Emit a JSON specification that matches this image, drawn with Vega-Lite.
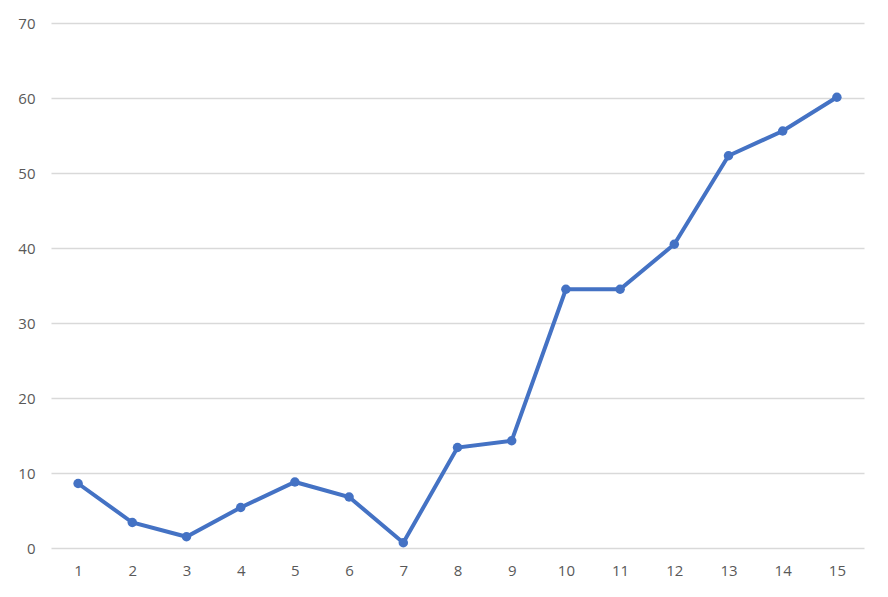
{
  "$schema": "https://vega.github.io/schema/vega-lite/v6.json",
  "width": 813,
  "height": 525,
  "autosize": "none",
  "padding": {"left": 51, "top": 23, "right": 24, "bottom": 49},
  "background": "#ffffff",
  "data": {
    "values": [
      {"x": 1, "y": 8.6},
      {"x": 2, "y": 3.4},
      {"x": 3, "y": 1.5},
      {"x": 4, "y": 5.4},
      {"x": 5, "y": 8.8},
      {"x": 6, "y": 6.8},
      {"x": 7, "y": 0.7},
      {"x": 8, "y": 13.4},
      {"x": 9, "y": 14.3},
      {"x": 10, "y": 34.5},
      {"x": 11, "y": 34.5},
      {"x": 12, "y": 40.5},
      {"x": 13, "y": 52.3},
      {"x": 14, "y": 55.6},
      {"x": 15, "y": 60.1}
    ]
  },
  "mark": {
    "type": "line",
    "color": "#4472C4",
    "strokeWidth": 4,
    "point": {"filled": true, "size": 90, "color": "#4472C4", "opacity": 1}
  },
  "encoding": {
    "x": {
      "field": "x",
      "type": "ordinal",
      "title": null,
      "scale": {"paddingInner": 0, "paddingOuter": 0},
      "axis": {
        "labelAngle": 0,
        "ticks": false,
        "domain": false,
        "grid": false,
        "labelPadding": 15,
        "labelColor": "#595959",
        "labelFont": "Open Sans",
        "labelFontSize": 15
      }
    },
    "y": {
      "field": "y",
      "type": "quantitative",
      "title": null,
      "scale": {"domain": [0, 70], "nice": false},
      "axis": {
        "values": [0, 10, 20, 30, 40, 50, 60, 70],
        "ticks": false,
        "domain": false,
        "gridColor": "#d9d9d9",
        "gridWidth": 1.3,
        "labelPadding": 16,
        "labelColor": "#595959",
        "labelFont": "Open Sans",
        "labelFontSize": 15
      }
    }
  },
  "config": {
    "view": {"stroke": null}
  }
}
